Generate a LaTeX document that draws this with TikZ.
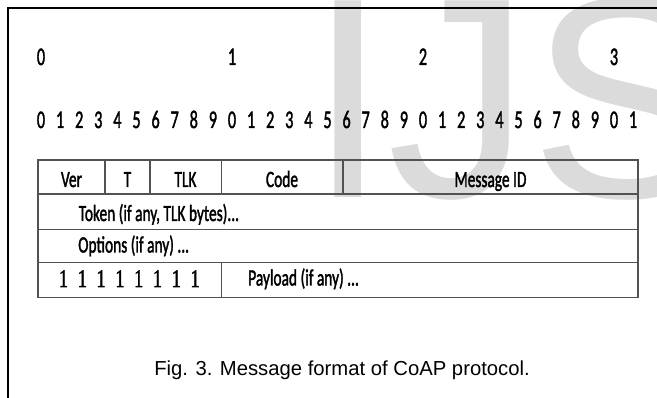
\documentclass[tikz,border=0pt]{standalone}
\usepackage{fontspec}
\usepackage{graphicx}
\setmainfont{Carlito}
\newfontfamily\cellfont[FakeBold=2]{Carlito}
\newfontfamily\capfont{Liberation Sans}
\newfontfamily\onefont[FakeBold=2]{Liberation Serif}
% horizontally condensed text
\newcommand\cond[2][0.66]{\scalebox{#1}[1]{#2}}

\begin{document}
\begin{tikzpicture}[x=0.75pt,y=-0.75pt,
  celltext/.style={inner sep=0pt, anchor=base, font=\fontsize{17.5}{17.5}\cellfont},
  bitnum/.style={inner sep=0pt, anchor=base, font=\fontsize{19}{19}\cellfont},
  onebit/.style={inner sep=0pt, anchor=base, font=\fontsize{19}{19}\onefont},
  rule/.style={draw=black!68, line width=1.3pt},
  frame/.style={draw=black, line width=1.8pt}]
\useasboundingbox (0,0) rectangle (657,398);

% faint watermark lettering in the background
\begin{scope}
  \clip (0,0) rectangle (657,398);
  \node[anchor=base west, inner sep=0pt, text=black!14,
        font=\fontsize{214.5}{214.5}\capfont] (wm) at (308,198) {IJSER};
\end{scope}

% page frame (top and left edges)
\coordinate (ftl) at (7.8,8);
\coordinate (ftr) at (657,8);
\coordinate (fbl) at (7.8,398);
\draw[frame] (ftr) -- (ftl) -- (fbl);

% word-level bit numbering
\foreach \k/\lab in {0/0,1/1,2/2,3/3} {
  \pgfmathsetmacro\xx{41+19.1*10*\k}
  \node[bitnum] (w\k) at (\xx,65) {\cond[0.64]{\lab}};
}
% bit numbering 0..31
\foreach \i in {0,...,31} {
  \pgfmathsetmacro\xx{41+19.1*\i}
  \pgfmathtruncatemacro\dd{mod(\i,10)}
  \node[bitnum] (b\i) at (\xx,128) {\cond[0.64]{\dd}};
}

% table grid
\coordinate (t0) at (38,160);  \coordinate (t0r) at (638,160);
\coordinate (t1) at (38,194);  \coordinate (t1r) at (638,194);
\coordinate (t2) at (38,229.5);\coordinate (t2r) at (638,229.5);
\coordinate (t3) at (38,262.5);\coordinate (t3r) at (638,262.5);
\coordinate (t4) at (38,297.5);\coordinate (t4r) at (638,297.5);
\draw[rule] (t0) rectangle (t4r);
\draw[rule] (t1) -- (t1r);
\draw[rule] (t2) -- (t2r);
\draw[rule] (t3) -- (t3r);
\draw[rule] (105,160) -- (105,194);
\draw[rule] (150,160) -- (150,194);
\draw[rule] (221.5,160) -- (221.5,194);
\draw[rule] (343,160) -- (343,194);
\draw[rule] (221.5,262.5) -- (221.5,297.5);

% header row
\node[celltext] (ver)  at (71.5,187) {\cond{Ver}};
\node[celltext] (tt)   at (127.5,187) {\cond{T}};
\node[celltext] (tlk)  at (185.5,187) {\cond{TLK}};
\node[celltext] (code) at (282,187) {\cond{Code}};
\node[celltext] (mid)  at (490.5,187) {\cond{Message ID}};

% variable-length rows
\node[celltext, anchor=base west] (tok) at (78.5,221) {\cond{Token (if any, TLK bytes)...}};
\node[celltext, anchor=base west] (opt) at (78,252.5) {\cond{Options (if any) ...}};
\foreach \j in {0,...,7} {
  \pgfmathsetmacro\xx{63.5+18.8*\j}
  \node[onebit] (one\j) at (\xx,287) {\cond[0.72]{1}};
}
\node[celltext, anchor=base west] (pay) at (248,285.5) {\cond{Payload (if any) ...}};

% caption
\node[inner sep=0pt, anchor=base, font=\fontsize{15.2}{15.2}\capfont] (cap)
  at (342,376) {Fig. 3. Message format of CoAP protocol.};
\end{tikzpicture}
\end{document}
